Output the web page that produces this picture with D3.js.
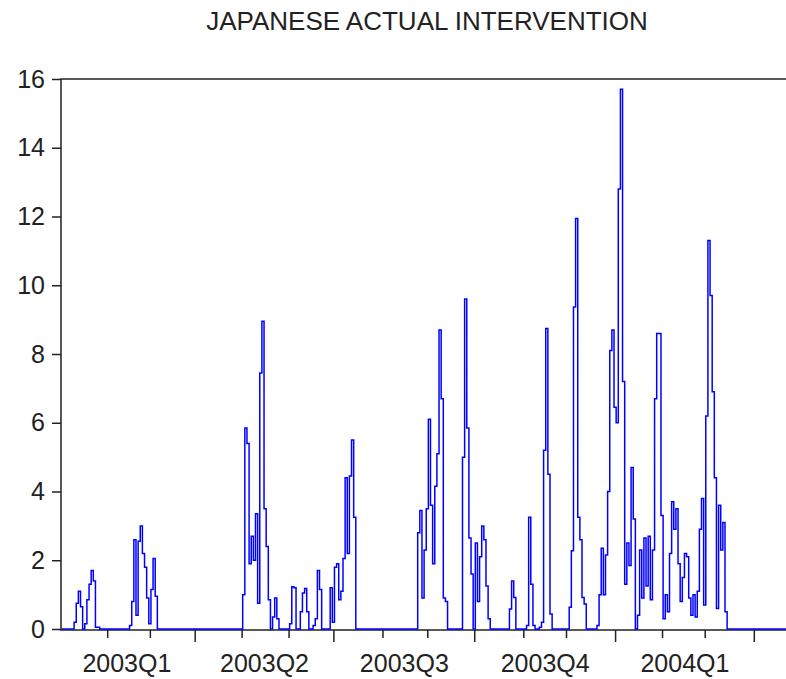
<!DOCTYPE html>
<html lang="en">
<head>
  <title>Japanese Actual Intervention</title>
  <meta charset="utf-8">
  <script src="https://d3js.org/d3.v7.min.js"></script>
  <style>
    body { margin: 0; background: white; }
    svg { display: block; overflow: hidden; }
    text { font-family: 'Liberation Sans', Arial, sans-serif; }
  </style>
</head>

<body>
  <svg id="chart" width="786" height="679"></svg>
</body>

<script>

// one value per business day, starting 2003-01-01, split by quarter
var q1_2003 = [0, 0, 0, 0, 0, 0, 0, 0, 0.2, 0.75,
               1.1, 0.65, 0, 0.15, 0.85, 1.3, 1.7, 1.4, 0.05, 0.05,
               0, 0, 0, 0, 0, 0, 0, 0, 0, 0,
               0, 0, 0, 0, 0.1, 0.8, 2.6, 0.4, 2.55, 3.0,
               2.2, 1.8, 0.9, 0.15, 1.15, 2.05, 0.95, 0, 0, 0,
               0, 0, 0, 0, 0, 0, 0, 0, 0, 0,
               0, 0, 0, 0];

var q2_2003 = [0, 0, 0, 0, 0, 0, 0, 0, 0, 0,
               0, 0, 0, 0, 0, 0, 0, 0, 0, 0,
               0, 0, 0, 1.0, 5.85, 5.4, 1.9, 2.7, 2.0, 3.35,
               0.75, 7.45, 8.95, 3.5, 2.4, 0.85, 0, 0.35, 0.9, 0.3,
               0, 0, 0, 0, 0, 0.15, 1.23, 1.2, 0, 0,
               0.5, 1.05, 1.18, 0.5, 0, 0, 0.1, 0.3, 1.7, 1.15,
               0, 0, 0, 0, 1.2];

var q3_2003 = [0.2, 1.8, 1.9, 0.85, 1.1, 2.05, 4.4, 2.2, 4.45, 5.5,
               3.25, 0, 0, 0, 0, 0, 0, 0, 0, 0,
               0, 0, 0, 0, 0, 0, 0, 0, 0, 0,
               0, 0, 0, 0, 0, 0, 0, 0, 0, 0,
               2.8, 3.45, 0.9, 2.3, 3.5, 6.1, 3.6, 1.9, 4.15, 5.1,
               8.7, 6.7, 0.9, 0.8, 0, 0, 0, 0, 0, 0,
               0, 5.0, 9.6, 5.85, 2.65, 1.6];

var q4_2003 = [0, 2.5, 0.8, 2.1, 3.0, 2.6, 1.25, 0.3, 0, 0,
               0, 0, 0, 0, 0, 0, 0, 0.58, 1.4, 0.92,
               0, 0, 0, 0, 0, 0.1, 3.25, 1.3, 0.1, 0,
               0, 0.05, 0.2, 5.2, 8.74, 4.5, 0.44, 0, 0, 0,
               0, 0, 0, 0, 0, 0.63, 2.28, 9.37, 11.94, 3.25,
               2.6, 0.92, 0.73, 0, 0, 0, 0, 0, 0.1, 1.0,
               2.35, 1.0, 2.15, 4.0, 8.1, 8.7];

var q1_2004 = [6.45, 6.0, 12.8, 15.7, 7.2, 1.3, 2.5, 1.85, 4.7, 3.2,
               0, 0.4, 2.3, 0.9, 2.65, 1.25, 2.7, 0.85, 2.3, 6.7,
               8.6, 8.6, 3.3, 0.3, 1.0, 0.5, 2.2, 3.7, 2.9, 3.5,
               1.9, 0.8, 1.5, 2.2, 2.1, 0.9, 0.4, 1.0, 0.35, 1.1,
               2.9, 3.8, 0.7, 6.2, 11.3, 9.7, 6.9, 4.4, 0.6, 3.6,
               2.3, 3.1, 0.5, 0, 0, 0, 0, 0, 0, 0,
               0, 0, 0, 0, 0];

var q2_2004 = [0, 0, 0, 0, 0, 0, 0, 0, 0, 0,
               0, 0, 0, 0, 0, 0, 0, 0, 0, 0,
               0, 0];

var quarterLabels = ['2003Q1', '2003Q2', '2003Q3', '2003Q4', '2004Q1'];
var yTicks = [0, 2, 4, 6, 8, 10, 12, 14, 16];
var firstDay = new Date(2003, 0, 1), endDay = new Date(2004, 4, 1);
var title = 'JAPANESE ACTUAL INTERVENTION';

/*******************************************************************************/
// building the series

var values = [].concat(q1_2003, q2_2003, q3_2003, q4_2003, q1_2004, q2_2004);
var days = d3.timeDay.range(firstDay, endDay).filter(function(d){ return d.getDay() != 0 && d.getDay() != 6; });
var data = days.map(function(d, i){ return { date: d, i: i, value: values[i] || 0 }; });

var monthStarts = [], quarterStarts = [];
days.forEach(function(d, i){
  if(i == 0 || d.getMonth() != days[i-1].getMonth()){
    monthStarts.push(i);
    if(d.getMonth() % 3 == 0){ quarterStarts.push(i); }
  }
});

var minorTicks = monthStarts.filter(function(i){ return i > 0 && quarterStarts.indexOf(i) < 0; });
var majorTicks = quarterStarts.filter(function(i){ return i > 0; });
var labelPos = d3.range(quarterLabels.length).map(function(k){ return (quarterStarts[k] + quarterStarts[k+1]) / 2; });

/*******************************************************************************/
// drawing

var svg = d3.select('#chart');
var plot_left = 61, plot_top = 79, plot_bottom = 630, plot_right = 792;

var x = d3.scaleLinear().domain([0, quarterStarts[5]]).range([58.1, 753.8]);
var y = d3.scaleLinear().domain([0, 16]).range([629, 79]);

svg.append('rect').attr('width', 786).attr('height', 679).attr('fill', 'white');

svg.append('text')
  .attr('x', 427).attr('y', 30)
  .attr('text-anchor', 'middle')
  .attr('font-size', 26)
  .attr('fill', '#222')
  .text(title);

// frame
svg.append('rect')
  .attr('x', plot_left).attr('y', plot_top)
  .attr('width', plot_right - plot_left).attr('height', plot_bottom - plot_top)
  .attr('fill', 'none').attr('stroke', '#222').attr('stroke-width', 1.5);

// y axis
var yAxis = svg.append('g')
  .attr('transform', 'translate(' + plot_left + ',0)')
  .call(d3.axisLeft(y).tickValues(yTicks).tickSize(9).tickPadding(7).tickSizeOuter(0));

// x axis: month ticks, quarter ticks, quarter labels
var xMinor = svg.append('g')
  .attr('transform', 'translate(0,' + plot_bottom + ')')
  .call(d3.axisBottom(x).tickValues(minorTicks).tickSize(8).tickFormat(''));

var xMajor = svg.append('g')
  .attr('transform', 'translate(0,' + plot_bottom + ')')
  .call(d3.axisBottom(x).tickValues(majorTicks).tickSize(12).tickFormat(''));

var xLabels = svg.append('g')
  .attr('transform', 'translate(0,' + plot_bottom + ')')
  .call(d3.axisBottom(x).tickValues(labelPos).tickSize(0).tickPadding(24)
    .tickFormat(function(d, i){ return quarterLabels[i]; }));

[yAxis, xMinor, xMajor, xLabels].forEach(function(g){
  g.select('.domain').remove();
  g.style('color', '#222')
   .attr('font-size', 25)
   .attr('font-family', "'Liberation Sans', Arial, sans-serif");
  g.selectAll('line').attr('stroke-width', 1.5);
});

// series
svg.append('clipPath').attr('id', 'plot_clip')
  .append('rect').attr('x', plot_left + 0.8).attr('y', 0).attr('width', plot_right - plot_left).attr('height', 679);

var line = d3.line()
  .curve(d3.curveStep)
  .x(function(d){ return x(d.i); })
  .y(function(d){ return y(d.value); });

svg.append('path')
  .datum(data)
  .attr('clip-path', 'url(#plot_clip)')
  .attr('d', line)
  .attr('fill', 'none')
  .attr('stroke', '#0000ff')
  .attr('stroke-width', 1.5)
  .attr('stroke-linejoin', 'miter');

</script>
</html>
